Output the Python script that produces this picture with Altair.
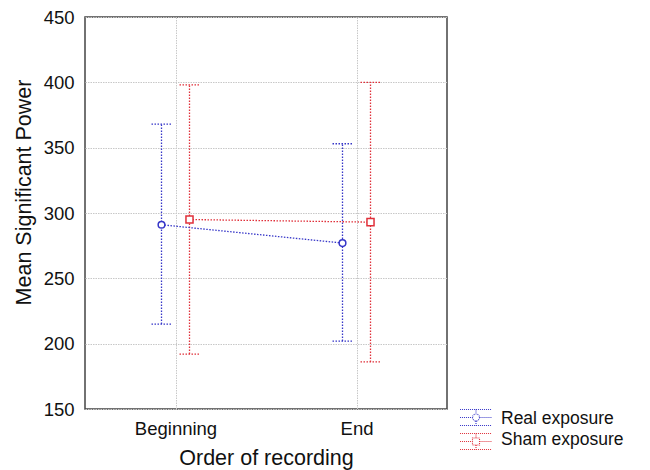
import math
import altair as alt
import pandas as pd

# ---- data ----
orders = ["Beginning", "End"]
series_names = ["Real exposure", "Sham exposure"]
real_mean = [291, 277]
real_low = [215, 202]
real_high = [368, 353]
sham_mean = [295, 293]
sham_low = [192, 186]
sham_high = [398, 400]
y_ticks = [150, 200, 250, 300, 350, 400, 450]

BLUE = "#3636c8"
RED = "#e0303a"
FONT = "Liberation Sans"

rows = []
for i, o in enumerate(orders):
    rows.append(dict(order=o, idx=i + 1, series=series_names[0],
                     mean=real_mean[i], low=real_low[i], high=real_high[i]))
    rows.append(dict(order=o, idx=i + 1, series=series_names[1],
                     mean=sham_mean[i], low=sham_low[i], high=sham_high[i]))
df = pd.DataFrame(rows)

W, H = 362, 392
PX = W / 2.0            # pixels per x unit (domain 0.5..2.5)
OFF = 14 / PX           # side-by-side dodge
CAP = 10 / PX           # half width of error-bar caps

base = alt.Chart(df).transform_calculate(
    side=f"datum.series == '{series_names[0]}' ? -1 : 1"
).transform_calculate(
    xpos=f"datum.idx + datum.side * {OFF}"
).transform_calculate(
    xl=f"datum.xpos - {CAP}", xr=f"datum.xpos + {CAP}"
)

label_js = "[" + ",".join(f"'{o}'" for o in orders) + "]"
x_scale = alt.Scale(domain=[0.5, 2.5], nice=False, zero=False)
x_axis = alt.Axis(values=[1, 2], labelExpr=f"{label_js}[datum.value - 1]",
                  title="Order of recording", grid=True, tickSize=0,
                  labelPadding=10, titlePadding=10, domain=False)
y_scale = alt.Scale(domain=[150, 450], nice=False, zero=False)
y_axis = alt.Axis(values=y_ticks, title="Mean Significant Power", grid=True,
                  tickSize=0, labelPadding=11, titlePadding=8, domain=False,
                  titleY=175)

X = alt.X("xpos:Q", scale=x_scale, axis=x_axis)
# data-driven domain (sorted: Real, Sham) so it is not merged with the legend's scale
stroke = alt.Stroke("series:N", scale=alt.Scale(range=[BLUE, RED]), legend=None)

DASH = [1.5, 1.5]
SW = 1.3

bars = base.mark_rule(strokeDash=DASH, strokeWidth=SW).encode(
    x=X, y=alt.Y("low:Q", scale=y_scale, axis=y_axis), y2="high:Q", stroke=stroke)
cap_hi = base.mark_rule(strokeDash=DASH, strokeWidth=SW).encode(
    x=alt.X("xl:Q", scale=x_scale, axis=x_axis), x2="xr:Q",
    y=alt.Y("high:Q", scale=y_scale, axis=y_axis), stroke=stroke)
cap_lo = base.mark_rule(strokeDash=DASH, strokeWidth=SW).encode(
    x=alt.X("xl:Q", scale=x_scale, axis=x_axis), x2="xr:Q",
    y=alt.Y("low:Q", scale=y_scale, axis=y_axis), stroke=stroke)
lines = base.mark_line(strokeDash=DASH, strokeWidth=SW).encode(
    x=X, y=alt.Y("mean:Q", scale=y_scale, axis=y_axis), stroke=stroke,
    order="idx:Q")

pts_real = base.transform_filter(f"datum.series == '{series_names[0]}'").mark_point(
    shape="circle", filled=True, fill="white", stroke=BLUE, strokeWidth=1.5,
    size=45, opacity=1).encode(x=X, y=alt.Y("mean:Q", scale=y_scale, axis=y_axis))
pts_sham = base.transform_filter(f"datum.series == '{series_names[1]}'").mark_point(
    shape="square", filled=True, fill="white", stroke=RED, strokeWidth=1.5,
    size=50, opacity=1).encode(x=X, y=alt.Y("mean:Q", scale=y_scale, axis=y_axis))


# legend symbols: little error-bar glyphs (r = 11 px per unit)
def f(v):
    return f"{v:.3f}"


def glyph(marker, dy):
    hw, hh, m = 1.45, 0.73, 0.32
    p = (f"M{f(-hw)},{f(-hh + dy)}H{f(hw)}"
         f"M{f(-hw)},{f(dy)}H{f(-m)}M{f(m)},{f(dy)}H{f(hw)}"
         f"M{f(-hw)},{f(hh + dy)}H{f(hw)}"
         f"M0,{f(-hh + dy)}V{f(-m + dy)}M0,{f(m + dy)}V{f(hh + dy)}")
    if marker == "circle":
        pts = [(m * math.cos(2 * math.pi * k / 16), dy + m * math.sin(2 * math.pi * k / 16))
               for k in range(16)]
        p += "M" + "L".join(f"{f(a)},{f(b)}" for a, b in pts) + "Z"
    else:
        p += f"M{f(-m)},{f(-m + dy)}H{f(m)}V{f(m + dy)}H{f(-m)}Z"
    return p


legend_props = dict(orient="none", legendX=379, legendY=390, title=None,
                    labelFont=FONT, labelFontSize=17.5, labelColor="#111",
                    symbolSize=484, symbolStrokeWidth=1.1, symbolDash=[1, 1],
                    symbolOpacity=1, labelOffset=13, rowPadding=-1, padding=0)
legend_layer = base.transform_filter("false").mark_point(filled=False).encode(
    x=X, y=alt.Y("mean:Q", scale=y_scale, axis=y_axis),
    color=alt.Color("series:N", scale=alt.Scale(domain=series_names, range=[BLUE, RED]),
                    legend=alt.Legend(**legend_props)),
    shape=alt.Shape("series:N", scale=alt.Scale(domain=series_names,
                                                range=[glyph("circle", -0.14),
                                                       glyph("square", 0.14)]),
                    legend=alt.Legend(**legend_props)),
)

chart = alt.layer(bars, cap_hi, cap_lo, lines, pts_real, pts_sham, legend_layer).properties(
    width=W, height=H,
    autosize=alt.AutoSizeParams(type="none"),
    padding={"left": 77, "top": 9, "right": 195, "bottom": 61},
).configure_view(
    stroke="#444", strokeWidth=1.5
).configure_axis(
    labelFont=FONT, labelFontSize=18.5, labelColor="#111",
    titleFont=FONT, titleFontSize=21.5, titleFontWeight="normal", titleColor="#111",
    gridColor="#c8c8c8", gridDash=[1.5, 1], gridWidth=1,
)

chart.save("out.html", embed_options={"renderer": "svg", "actions": False})
